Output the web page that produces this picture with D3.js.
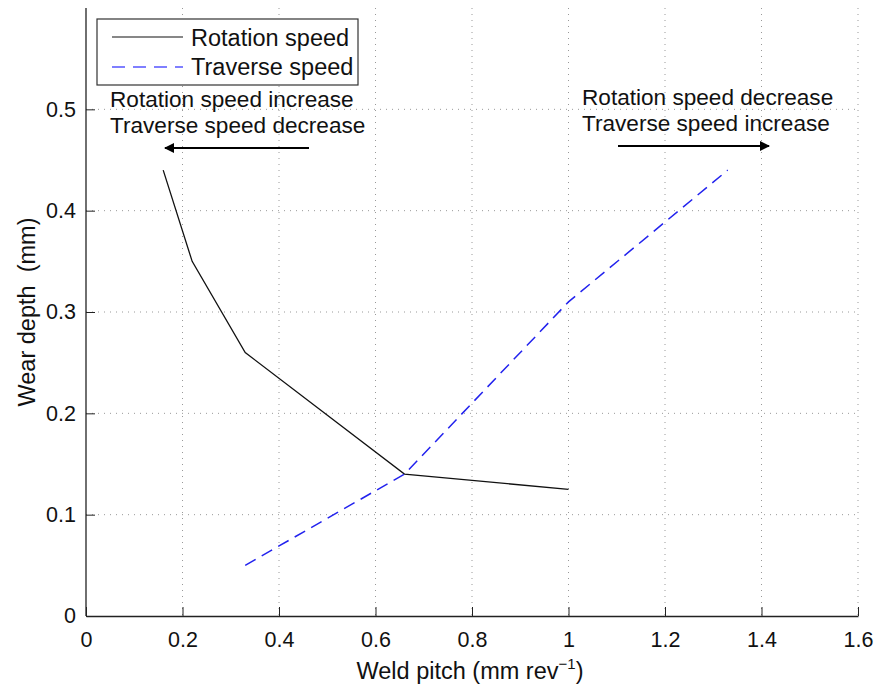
<!DOCTYPE html>
<html><head><meta charset="utf-8">
<script src="https://cdn.jsdelivr.net/npm/d3@7"></script>
<style>body{margin:0;background:#fff}svg{display:block}text{font-family:"Liberation Sans",Arial,sans-serif;fill:#111}</style>
</head><body><svg id="c" width="881" height="693"></svg>
<script>
const rotX = [0.16, 0.22, 0.33, 0.66, 1.0];
const rotY = [0.44, 0.35, 0.26, 0.14, 0.125];
const travX = [0.33, 0.66, 1.0, 1.33];
const travY = [0.05, 0.14, 0.31, 0.44];
const xTicks = [0, 0.2, 0.4, 0.6, 0.8, 1, 1.2, 1.4, 1.6];
const yTicks = [0, 0.1, 0.2, 0.3, 0.4, 0.5];
const seriesNames = ["Rotation speed", "Traverse speed"];

const svg = d3.select("#c");
const L = 86, R = 858, T = 8, B = 616;
const x = d3.scaleLinear().domain([0, 1.6]).range([L, R]);
const y = d3.scaleLinear().domain([0, 0.6]).range([B, T]);

// grid
const g = svg.append("g");
g.selectAll(".vx").data(xTicks.filter(d => d > 0)).enter().append("line")
  .attr("x1", d => x(d)).attr("x2", d => x(d)).attr("y1", T).attr("y2", B)
  .attr("stroke", "#999").attr("stroke-width", 1).attr("stroke-dasharray", "1,5");
g.selectAll(".hy").data(yTicks.filter(d => d > 0)).enter().append("line")
  .attr("y1", d => y(d)).attr("y2", d => y(d)).attr("x1", L).attr("x2", R)
  .attr("stroke", "#999").attr("stroke-width", 1).attr("stroke-dasharray", "1,5");

// axes
const fmt = d => d === 0 ? "0" : d3.format("~g")(d);
const xa = svg.append("g").attr("transform", `translate(0,${B})`)
  .call(d3.axisBottom(x).tickValues(xTicks).tickFormat(fmt).tickSizeInner(-9).tickSizeOuter(0).tickPadding(16));
const ya = svg.append("g").attr("transform", `translate(${L},0)`)
  .call(d3.axisLeft(y).tickValues(yTicks).tickFormat(fmt).tickSizeInner(-9).tickSizeOuter(0).tickPadding(10));
[xa, ya].forEach(a => {
  a.selectAll("text").style("font-size", "21.5px").style("font-family", '"Liberation Sans",Arial,sans-serif').attr("fill", "#111");
  a.selectAll("line").attr("stroke", "#222");
  a.select(".domain").attr("stroke", "#222").attr("stroke-width", 1.3);
});
ya.select(".domain").attr("d", `M0,${B}V${T}`);

// lines
const line = d3.line().x(d => x(d[0])).y(d => y(d[1]));
const rot = rotX.map((v, i) => [v, rotY[i]]);
const trav = travX.map((v, i) => [v, travY[i]]);
svg.append("path").datum(rot).attr("d", line).attr("fill", "none").attr("stroke", "#111").attr("stroke-width", 1.3);
svg.append("path").datum(trav).attr("d", line).attr("fill", "none").attr("stroke", "#2222ee").attr("stroke-width", 1.5).attr("stroke-dasharray", "12,7");

// legend
const lg = svg.append("g");
lg.append("rect").attr("x", 97).attr("y", 19).attr("width", 261).attr("height", 66).attr("fill", "#fff").attr("stroke", "#333").attr("stroke-width", 1.2);
lg.append("line").attr("x1", 112).attr("x2", 183).attr("y1", 37).attr("y2", 37).attr("stroke", "#111").attr("stroke-width", 1.2);
lg.append("line").attr("x1", 112).attr("x2", 183).attr("y1", 67).attr("y2", 67).attr("stroke", "#5555ff").attr("stroke-width", 1.5).attr("stroke-dasharray", "13,8");
lg.append("text").attr("x", 191).attr("y", 46).style("font-size", "23.5px").text(seriesNames[0]);
lg.append("text").attr("x", 191).attr("y", 75).style("font-size", "23.5px").text(seriesNames[1]);

// annotations
svg.append("defs").append("marker").attr("id", "ah").attr("viewBox", "0 0 10 10").attr("refX", 9).attr("refY", 5)
  .attr("markerWidth", 5).attr("markerHeight", 5).attr("orient", "auto").attr("markerUnits", "strokeWidth")
  .append("path").attr("d", "M0,0L10,5L0,10Z").attr("fill", "#000");
const ann = [
  {tx: 110, ty: 107, lines: ["Rotation speed increase", "Traverse speed decrease"], ax1: 309, ax2: 165, ay: 148},
  {tx: 582, ty: 105, lines: ["Rotation speed decrease", "Traverse speed increase"], ax1: 618, ax2: 769, ay: 146}
];
ann.forEach(a => {
  a.lines.forEach((t, i) => svg.append("text").attr("x", a.tx).attr("y", a.ty + i * 26).style("font-size", "22.6px").text(t));
  svg.append("line").attr("x1", a.ax1).attr("x2", a.ax2).attr("y1", a.ay).attr("y2", a.ay).attr("stroke", "#000").attr("stroke-width", 2).attr("marker-end", "url(#ah)");
});

// axis titles
const xt = svg.append("text").attr("x", 470).attr("y", 679).attr("text-anchor", "middle").style("font-size", "23.5px");
xt.append("tspan").text("Weld pitch (mm rev");
xt.append("tspan").attr("dy", -10).style("font-size", "15px").text("\u22121");
xt.append("tspan").attr("dy", 10).text(")");
svg.append("text").attr("transform", "translate(35,312) rotate(-90)").attr("text-anchor", "middle").style("font-size", "23.5px").style("white-space", "pre").text("Wear depth  (mm)");
</script></body></html>
